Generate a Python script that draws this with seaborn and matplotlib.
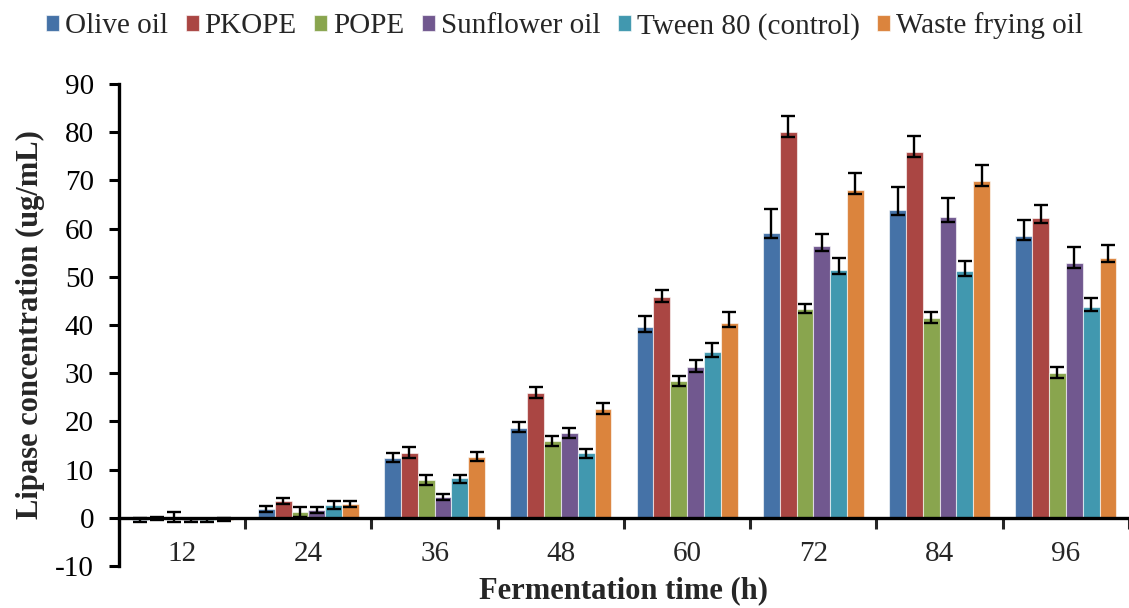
import numpy as np
import pandas as pd
import matplotlib
matplotlib.use('Agg')
import matplotlib.pyplot as plt
import seaborn as sns

# Lipase concentration (ug/mL) per fermentation time
times = ['12', '24', '36', '48', '60', '72', '84', '96']
oils = ['Olive oil', 'PKOPE', 'POPE', 'Sunflower oil', 'Tween 80 (control)', 'Waste frying oil']

olive = [-0.4, 1.9, 12.5, 18.6, 39.6, 59.0, 63.8, 58.5]
pkope = [-0.2, 3.5, 13.5, 25.9, 45.8, 80.0, 75.9, 62.1]
pope = [0.1, 1.2, 7.9, 15.9, 28.4, 43.4, 41.5, 30.0]
sunflower = [-0.5, 1.6, 4.3, 17.6, 31.3, 56.3, 62.4, 52.8]
tween = [-0.5, 2.7, 8.3, 13.5, 34.4, 51.5, 51.2, 43.8]
waste = [-0.4, 2.8, 12.7, 22.5, 40.5, 68.1, 69.8, 53.9]

# error bars (upper / lower)
olive_hi = [0.4, 0.6, 0.9, 1.2, 2.2, 5.1, 4.9, 3.3]
olive_lo = [0.4, 0.6, 1.0, 0.9, 1.0, 1.0, 1.0, 0.9]
pkope_hi = [0.3, 0.6, 1.1, 1.25, 1.5, 3.4, 3.3, 2.9]
pkope_lo = [0.3, 0.6, 1.0, 1.0, 1.0, 1.0, 1.0, 1.0]
pope_hi = [1.0, 1.0, 1.0, 1.1, 1.0, 1.0, 1.1, 1.2]
pope_lo = [1.0, 1.0, 1.0, 1.0, 1.0, 1.0, 1.0, 1.0]
sun_hi = [0.3, 0.6, 0.7, 1.0, 1.45, 2.5, 3.9, 3.3]
sun_lo = [0.3, 0.6, 0.7, 1.0, 1.0, 1.0, 1.0, 0.9]
tween_hi = [0.3, 0.8, 0.6, 0.75, 1.9, 2.4, 2.1, 1.7]
tween_lo = [0.3, 0.8, 1.0, 1.0, 1.0, 0.9, 1.0, 0.9]
waste_hi = [0.3, 0.6, 1.0, 1.3, 2.1, 3.5, 3.5, 2.8]
waste_lo = [0.3, 0.6, 0.9, 1.0, 1.0, 1.0, 1.0, 0.9]

colors = ['#4572A7', '#AA4643', '#89A54E', '#71588F', '#4198AF', '#DB843D']

values = [olive, pkope, pope, sunflower, tween, waste]
err_hi = [olive_hi, pkope_hi, pope_hi, sun_hi, tween_hi, waste_hi]
err_lo = [olive_lo, pkope_lo, pope_lo, sun_lo, tween_lo, waste_lo]

df = pd.DataFrame({
    'time': times * len(oils),
    'oil': np.repeat(oils, len(times)),
    'lipase': np.concatenate(values),
})

sns.set_theme(style='ticks')
plt.rcParams['font.family'] = ['Liberation Serif', 'DejaVu Serif']
plt.rcParams['axes.unicode_minus'] = False

fig, ax = plt.subplots(figsize=(11.29, 6.08), dpi=100)
fig.subplots_adjust(left=0.1054, right=1.0, bottom=0.0691, top=0.8618)

sns.barplot(data=df, x='time', y='lipase', hue='oil', order=times, hue_order=oils,
            palette=colors, errorbar=None, saturation=1, width=0.8,
            edgecolor=(1, 1, 1, 0.6), linewidth=0.8, ax=ax)

# asymmetric error bars on top of each bar
for cont, lo, hi in zip(ax.containers, err_lo, err_hi):
    xs = [b.get_x() + b.get_width() / 2 for b in cont]
    ys = [b.get_height() for b in cont]
    ax.errorbar(xs, ys, yerr=[lo, hi], fmt='none', ecolor='black',
                elinewidth=1.7, capsize=4.7, capthick=1.7, zorder=5)

ax.set_ylim(-10, 90)
ax.set_xlim(-0.5, 7.5)
ax.set_yticks(np.arange(-10, 91, 10))
ax.tick_params(axis='y', labelsize=21, direction='out', length=7, width=2.2, pad=11, colors='black')

# group boundary ticks on the zero line, labels centred under groups
ax.set_xticks(np.arange(-0.5, 8, 1))
ax.set_xticklabels([''] * 9)
ax.set_xticks(np.arange(len(times)), labels=times, minor=True)
ax.tick_params(axis='x', which='major', direction='out', length=8, width=2.2)
ax.tick_params(axis='x', which='minor', length=0, labelsize=21, pad=17)

ax.spines['bottom'].set_position(('data', 0))
ax.spines['top'].set_visible(False)
ax.spines['right'].set_visible(False)
for s in ['left', 'bottom']:
    ax.spines[s].set_linewidth(2.4)
    ax.spines[s].set_color('black')

ax.set_xlabel('Fermentation time (h)', fontsize=22, fontweight='bold')
ax.set_ylabel('Lipase concentration (ug/mL)', fontsize=22, fontweight='bold')
ax.xaxis.set_label_coords(0.5, -0.022)
ax.yaxis.set_label_coords(-0.073, 0.5)

handles, labels = ax.get_legend_handles_labels()
ax.get_legend().remove()
fig.legend(handles, labels, loc='center', bbox_to_anchor=(0.5, 0.957), ncol=6,
           frameon=False, fontsize=21, handlelength=0.45, handleheight=0.45,
           handletextpad=0.2, columnspacing=0.6, borderaxespad=0)

plt.savefig('out.png', dpi=100)
plt.close()
